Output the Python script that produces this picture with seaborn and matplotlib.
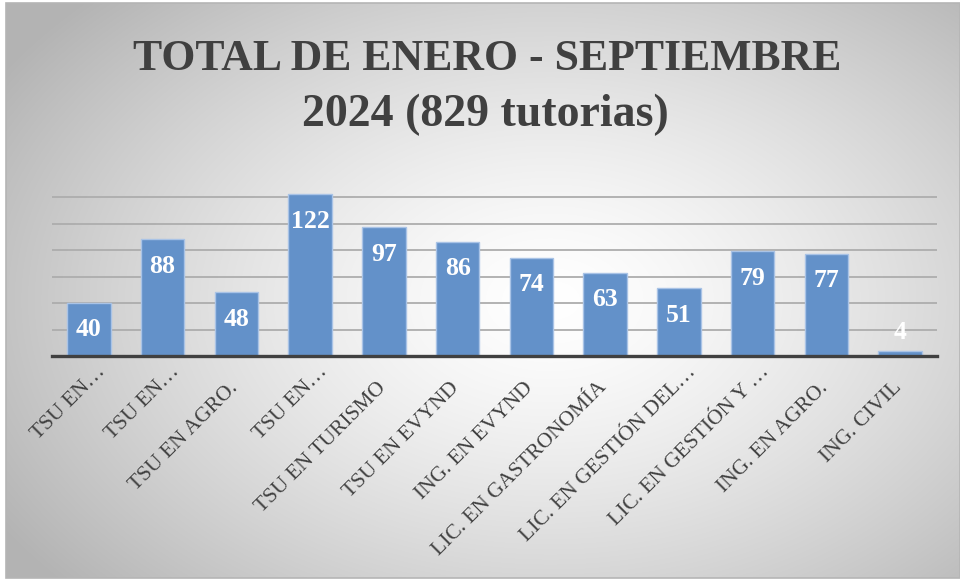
import numpy as np
import pandas as pd
import matplotlib
matplotlib.use("Agg")
import matplotlib.pyplot as plt
import matplotlib.transforms as mtransforms
from matplotlib.patches import Rectangle
import seaborn as sns

# ---- data ----
categories = [
    "TSU EN…", "TSU EN…", "TSU EN AGRO.", "TSU EN…", "TSU EN TURISMO",
    "TSU EN EVYND", "ING. EN EVYND", "LIC. EN GASTRONOMÍA",
    "LIC. EN GESTIÓN DEL…", "LIC. EN GESTIÓN Y …", "ING. EN AGRO.", "ING. CIVIL",
]
values = [40, 88, 48, 122, 97, 86, 74, 63, 51, 79, 77, 4]
gridline_values = [20, 40, 60, 80, 100, 120]
title_line1 = "TOTAL DE ENERO - SEPTIEMBRE"
title_line2 = "2024 (829 tutorias)"

df = pd.DataFrame({"pos": list(range(len(categories))), "value": values})

W, H = 960, 581
sns.set_theme(style="white")
plt.rcParams["font.family"] = ["Liberation Serif", "DejaVu Serif"]

fig = plt.figure(figsize=(W / 100, H / 100), dpi=100)
fig.patch.set_facecolor("white")

# ---- background radial gradient box ----
bg = fig.add_axes([0, 0, 1, 1], zorder=0)
bg.set_xlim(0, W)
bg.set_ylim(H, 0)
bg.axis("off")
x0, x1, y0, y1 = 6, W, 3, 578
yy, xx = np.mgrid[y0:y1, x0:x1]
cx, cy, rx, ry = 550, 300, 540, 360
t = np.sqrt(((xx - cx) / rx) ** 2 + ((yy - cy) / ry) ** 2)
g = 1 - 0.23 * np.clip(t, 0, 1.2) ** 1.4
g = np.clip(g, 0, 1)
bg.imshow(np.dstack([g, g, g]), extent=(x0, x1, y1, y0), aspect="auto",
          interpolation="bilinear")
bg.add_patch(Rectangle((x0, y0), x1 - x0, y1 - y0, fill=False,
                       edgecolor="#B5B5B5", lw=1.2))

# ---- main axes ----
base_px, top_px = 356, 170.5
ax = fig.add_axes([52 / W, (H - base_px) / H, (937 - 52) / W, (base_px - top_px) / H],
                  zorder=1)
ax.patch.set_alpha(0)

sns.barplot(data=df, x="pos", y="value", color="#6391C9", saturation=1,
            width=0.59, edgecolor="#A9C3E6", linewidth=1, ax=ax, zorder=3)

ax.set_xlim(-0.5, len(categories) - 0.5)
ax.set_ylim(0, 140)
ax.set_yticks(gridline_values)
ax.yaxis.grid(True, color="#ADADAD", lw=1.3)
ax.xaxis.grid(False)
ax.set_axisbelow(True)
ax.set_yticklabels([])
ax.set_xlabel("")
ax.set_ylabel("")
for s in ["top", "left", "right"]:
    ax.spines[s].set_visible(False)
ax.spines["bottom"].set_color("#404040")
ax.spines["bottom"].set_linewidth(2.4)
ax.spines["bottom"].set_zorder(5)
ax.tick_params(axis="both", length=0, pad=0)

ax.set_xticks(range(len(categories)))
ax.set_xticklabels(categories, rotation=45, ha="right", va="center",
                   rotation_mode="anchor", fontsize=15.5, color="#404040")
for lab in ax.get_xticklabels():
    if lab.get_text().endswith("…"):
        dx, dy = 14, -13
    else:
        dx, dy = -1, -29
    off = mtransforms.ScaledTranslation(dx / 100, dy / 100, fig.dpi_scale_trans)
    lab.set_transform(lab.get_transform() + off)

# ---- data labels ----
px_per_unit = (base_px - top_px) / 140
for i, v in enumerate(values):
    dy = -19.4 if v * px_per_unit > 40 else 13
    ax.annotate(str(v), (i, v), xytext=(0, dy), textcoords="offset points",
                ha="center", va="center", color="white", fontweight="bold",
                fontsize=18.5, zorder=6)

# ---- title ----
fig.text(487 / W, 1 - 70 / H, title_line1, ha="center", va="baseline",
         fontsize=31.5, fontweight="bold", color="#404040")
fig.text(485 / W, 1 - 126 / H, title_line2, ha="center", va="baseline",
         fontsize=33, fontweight="bold", color="#404040")

fig.savefig("out.png", dpi=100, facecolor="white")
